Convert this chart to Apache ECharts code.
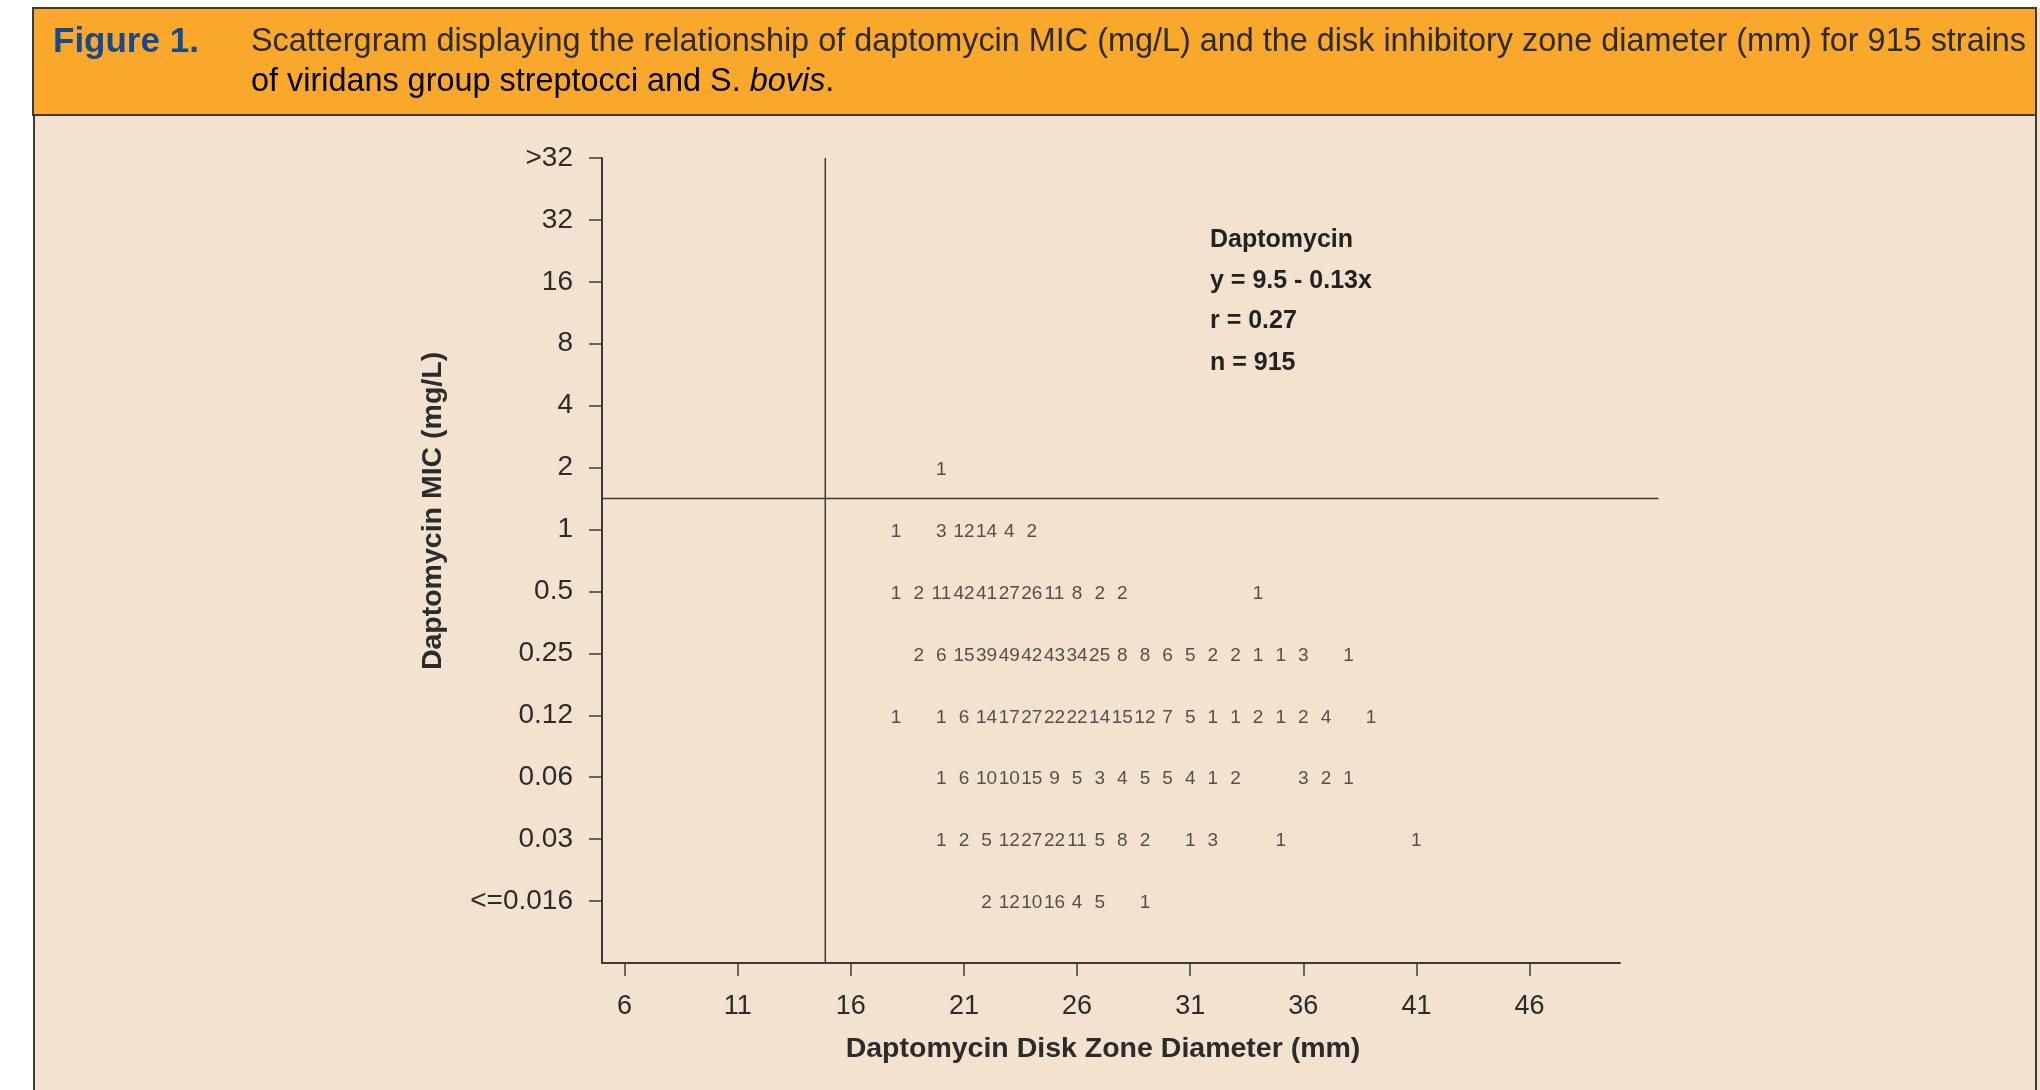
<!DOCTYPE html>
<html>
<head>
<meta charset="utf-8">
<script src="https://cdn.jsdelivr.net/npm/echarts@6/dist/echarts.min.js"></script>
<style>
    html, body { margin: 0; padding: 0; background: #ffffff; }
    #mainEchart { width: 2040px; height: 1090px; }
</style>
</head>
<body>
<div id="mainEchart"></div>
<script>
// MIC rows, bottom to top
var micLabels = ['<=0.016', '0.03', '0.06', '0.12', '0.25', '0.5', '1', '2', '4', '8', '16', '32', '>32'];
var xTickValues = [6, 11, 16, 21, 26, 31, 36, 41, 46];

// [zone diameter mm, number of strains]
var rowLE016 = [[22, 2], [23, 12], [24, 10], [25, 16], [26, 4], [27, 5], [29, 1]];
var row003 = [[20, 1], [21, 2], [22, 5], [23, 12], [24, 27], [25, 22], [26, 11], [27, 5], [28, 8], [29, 2], [31, 1], [32, 3], [35, 1], [41, 1]];
var row006 = [[20, 1], [21, 6], [22, 10], [23, 10], [24, 15], [25, 9], [26, 5], [27, 3], [28, 4], [29, 5], [30, 5], [31, 4], [32, 1], [33, 2], [36, 3], [37, 2], [38, 1]];
var row012 = [[18, 1], [20, 1], [21, 6], [22, 14], [23, 17], [24, 27], [25, 22], [26, 22], [27, 14], [28, 15], [29, 12], [30, 7], [31, 5], [32, 1], [33, 1], [34, 2], [35, 1], [36, 2], [37, 4], [39, 1]];
var row025 = [[19, 2], [20, 6], [21, 15], [22, 39], [23, 49], [24, 42], [25, 43], [26, 34], [27, 25], [28, 8], [29, 8], [30, 6], [31, 5], [32, 2], [33, 2], [34, 1], [35, 1], [36, 3], [38, 1]];
var row05 = [[18, 1], [19, 2], [20, 11], [21, 42], [22, 41], [23, 27], [24, 26], [25, 11], [26, 8], [27, 2], [28, 2], [34, 1]];
var row1 = [[18, 1], [20, 3], [21, 12], [22, 14], [23, 4], [24, 2]];
var row2 = [[20, 1]];

// breakpoint lines (diameter, MIC row position between 1 and 2)
var diameterBreak = 14.87;
var micBreak = 7.5;
var micBreakEnd = 51.7;

var rows = [rowLE016, row003, row006, row012, row025, row05, row1, row2];

var countData = [];
for (let i = 0; i < rows.length; i++) {
    for (let j = 0; j < rows[i].length; j++) {
        countData.push([rows[i][j][0], i + 1, rows[i][j][1]]);
    }
}

var yTickValues = [];
for (let i = 1; i <= micLabels.length; i++) {
    yTickValues.push(i);
}

var fontName = '"Liberation Sans", Arial, Helvetica, sans-serif';
var lineColor = '#3a3a3a';
var textColor = '#2b2b2b';

var myChart = echarts.init(document.getElementById('mainEchart'));

var frameGraphic = [
    // white margin + header band
    { type: 'rect', shape: { x: 0, y: 0, width: 2040, height: 8 }, style: { fill: '#ffffff' } },
    { type: 'rect', shape: { x: 0, y: 0, width: 33, height: 1090 }, style: { fill: '#ffffff' } },
    { type: 'rect', shape: { x: 33, y: 8, width: 2003, height: 107 }, style: { fill: '#f9a82c', stroke: '#3b3b3b', lineWidth: 2 } },
    { type: 'line', shape: { x1: 34, y1: 115, x2: 34, y2: 1090 }, style: { stroke: '#3b3b3b', lineWidth: 2 } },
    { type: 'line', shape: { x1: 2036, y1: 115, x2: 2036, y2: 1090 }, style: { stroke: '#3b3b3b', lineWidth: 2 } },
    {
        type: 'text', x: 53, y: 42,
        style: { text: 'Figure 1.', font: 'bold 35px ' + fontName, fill: '#174a8c', verticalAlign: 'middle' }
    },
    {
        type: 'text', x: 251, y: 42,
        style: {
            text: 'Scattergram displaying the relationship of daptomycin MIC (mg/L) and the disk inhibitory zone diameter (mm) for 915 strains',
            font: '32.4px ' + fontName, fill: textColor, verticalAlign: 'middle'
        }
    },
    {
        type: 'text', x: 251, y: 82,
        style: {
            text: '{a|of viridans group streptocci and S. }{i|bovis}{a|.}',
            verticalAlign: 'middle',
            rich: {
                a: { fontSize: 32.4, fontFamily: fontName, color: textColor },
                i: { fontSize: 32.4, fontFamily: fontName, fontStyle: 'italic', color: textColor }
            }
        }
    },
    // axis names
    {
        type: 'text', x: 433, y: 511, rotation: Math.PI / 2,
        style: { text: 'Daptomycin MIC (mg/L)', font: 'bold 28.5px ' + fontName, fill: textColor, align: 'center', verticalAlign: 'middle' }
    },
    {
        type: 'text', x: 1103, y: 1049,
        style: { text: 'Daptomycin Disk Zone Diameter (mm)', font: 'bold 28.5px ' + fontName, fill: textColor, align: 'center', verticalAlign: 'middle' }
    },
    // regression box
    { type: 'text', x: 1210, y: 240, style: { text: 'Daptomycin', font: 'bold 25px ' + fontName, fill: '#222222', verticalAlign: 'middle' } },
    { type: 'text', x: 1210, y: 281, style: { text: 'y = 9.5 - 0.13x', font: 'bold 25px ' + fontName, fill: '#222222', verticalAlign: 'middle' } },
    { type: 'text', x: 1210, y: 321, style: { text: 'r = 0.27', font: 'bold 25px ' + fontName, fill: '#222222', verticalAlign: 'middle' } },
    { type: 'text', x: 1210, y: 363, style: { text: 'n = 915', font: 'bold 25px ' + fontName, fill: '#222222', verticalAlign: 'middle' } }
];

var option = {
    backgroundColor: '#f2e2cf',
    animation: false,
    textStyle: { fontFamily: fontName },
    grid: {
        left: 602,
        right: 420,
        top: 158,
        bottom: 127
    },
    xAxis: {
        type: 'value',
        min: 5,
        max: 50,
        splitLine: { show: false },
        axisLine: { show: true, lineStyle: { color: lineColor, width: 2 } },
        axisTick: { show: true, customValues: xTickValues, length: 13, lineStyle: { color: lineColor, width: 1.5 } },
        axisLabel: { customValues: xTickValues, margin: 30, fontSize: 27, color: textColor, fontFamily: fontName }
    },
    yAxis: {
        type: 'value',
        min: 0,
        max: 13,
        splitLine: { show: false },
        axisLine: { show: true, lineStyle: { color: lineColor, width: 2 } },
        axisTick: { show: true, customValues: yTickValues, length: 13, lineStyle: { color: lineColor, width: 1.5 } },
        axisLabel: {
            customValues: yTickValues,
            margin: 29,
            fontSize: 28,
            color: textColor,
            fontFamily: fontName,
            formatter: function (v) {
                return micLabels[Math.round(v) - 1];
            }
        }
    },
    series: [
        {
            type: 'scatter',
            data: countData,
            symbolSize: 2,
            itemStyle: { color: 'rgba(0,0,0,0)' },
            silent: true,
            z: 5,
            label: {
                show: true,
                position: 'inside',
                offset: [0, 2],
                fontSize: 19,
                color: '#2b2b2b',
                fontFamily: fontName,
                formatter: function (p) {
                    return p.value[2];
                }
            }
        },
        {
            type: 'line',
            data: [[diameterBreak, 0], [diameterBreak, 13]],
            symbol: 'none',
            silent: true,
            lineStyle: { color: lineColor, width: 1.5 }
        }
    ],
    graphic: frameGraphic
};

myChart.setOption(option);

// horizontal break line runs past the end of the x axis, so place it from the axis scale
var p0 = myChart.convertToPixel({ gridIndex: 0 }, [5, micBreak]);
var p1 = myChart.convertToPixel({ gridIndex: 0 }, [micBreakEnd, micBreak]);
frameGraphic.push({
    type: 'line',
    shape: { x1: p0[0], y1: p0[1], x2: p1[0], y2: p1[1] },
    style: { stroke: lineColor, lineWidth: 1.5 },
    silent: true
});
myChart.setOption({ graphic: frameGraphic });
</script>
</body>
</html>
